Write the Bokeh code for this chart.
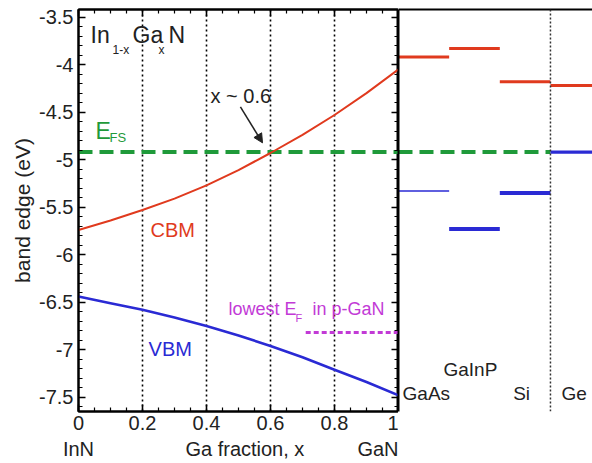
from bokeh.plotting import figure
from bokeh.models import (Range1d, FixedTicker, LinearAxis, Label, Arrow, NormalHead,
                          Span, ColumnDataSource, NumeralTickFormatter, Grid)
from bokeh.layouts import row
from bokeh.embed import file_html
from bokeh.resources import INLINE

# ---------------- data ----------------
ga_fraction = [0.0, 0.1, 0.2, 0.3, 0.4, 0.5, 0.6, 0.7, 0.8, 0.9, 1.0]
cbm = [-5.74, -5.64, -5.53, -5.41, -5.27, -5.11, -4.93, -4.74, -4.53, -4.30, -4.05]
vbm = [-6.44, -6.51, -6.58, -6.66, -6.75, -6.85, -6.96, -7.08, -7.21, -7.34, -7.48]
ef_s = -4.92
lowest_ef_pgan = -6.82
lowest_ef_x = [0.71, 1.0]

materials = ["GaAs", "GaInP", "Si", "Ge"]
mat_cbm = [-3.92, -3.83, -4.18, -4.22]
mat_vbm = [-5.33, -5.73, -5.35, -4.92]

x_ticks = [0, 0.2, 0.4, 0.6, 0.8, 1.0]
y_ticks = [-3.5, -4.0, -4.5, -5.0, -5.5, -6.0, -6.5, -7.0, -7.5]
x_minor = [round(i * 0.05, 2) for i in range(21)]
y_minor = [round(-3.4 - i * 0.1, 1) for i in range(43)]
x_names = {0: "InN", 0.52: "Ga fraction, x", 0.967: "GaN"}

# ---------------- style ----------------
FONT = "Liberation Sans"
RED = "#e03a1e"
BLUE = "#2a2ad4"
GREEN = "#1f9a3a"
MAGENTA = "#c23ad6"
TXT = "#222222"

YR = Range1d(-7.65, -3.42)


def mk_axis(ticks, minor, labels=True):
    ax = LinearAxis(ticker=FixedTicker(ticks=ticks, minor_ticks=minor),
                    formatter=NumeralTickFormatter(format="0.[0]"))
    ax.major_tick_in = 7
    ax.major_tick_out = 0
    ax.minor_tick_in = 4
    ax.minor_tick_out = 0
    ax.axis_line_width = 2
    ax.major_tick_line_width = 1.5
    ax.minor_tick_line_width = 1.2
    ax.major_label_text_font = FONT
    ax.major_label_text_font_size = "20px"
    ax.major_label_text_color = TXT
    ax.major_label_standoff = 5
    if not labels:
        ax.major_label_text_font_size = "0px"
        ax.major_label_text_color = None
        ax.major_label_standoff = 0
    return ax


left = figure(width=398, height=463, x_range=Range1d(0, 1), y_range=YR,
              output_backend="svg", toolbar_location=None,
              x_axis_type=None, y_axis_type=None,
              min_border_left=78, min_border_right=0, min_border_top=9,
              min_border_bottom=52)
left.outline_line_color = "black"
left.outline_line_width = 2
left.background_fill_color = "white"
left.border_fill_color = "white"

bx = mk_axis(x_ticks, x_minor)
bx.major_label_standoff = 4
left.add_layout(bx, "below")

# second row under the numbers: InN ... Ga fraction, x ... GaN
bx2 = LinearAxis(ticker=FixedTicker(ticks=list(x_names.keys())),
                 major_label_overrides=x_names, axis_line_color=None,
                 major_tick_in=0, major_tick_out=0, minor_tick_in=0,
                 minor_tick_out=0, major_label_standoff=5,
                 major_label_text_font=FONT, major_label_text_font_size="20px",
                 major_label_text_color=TXT)
left.add_layout(bx2, "below")

ly = mk_axis(y_ticks, y_minor)
ly.axis_label = "band edge (eV)"
ly.axis_label_text_font = FONT
ly.axis_label_text_font_size = "21px"
ly.axis_label_text_font_style = "normal"
ly.axis_label_text_color = TXT
ly.axis_label_standoff = 2
left.add_layout(ly, "left")
left.add_layout(mk_axis(x_ticks, x_minor, labels=False), "above")
left.add_layout(mk_axis(y_ticks, y_minor, labels=False), "right")

left.add_layout(Grid(dimension=0, ticker=FixedTicker(ticks=x_ticks[1:-1]),
                     grid_line_color="black", grid_line_dash="2 3",
                     grid_line_width=1.6))

left.line([0, 1], [ef_s, ef_s], line_color=GREEN, line_width=4, line_dash="14 7")
left.line(ga_fraction, cbm, line_color=RED, line_width=2)
left.line(ga_fraction, vbm, line_color=BLUE, line_width=2.6)
left.line(lowest_ef_x, [lowest_ef_pgan, lowest_ef_pgan], line_color=MAGENTA,
          line_width=3, line_dash="5 3")


def lab(fig, x, y, text, size, color=TXT, align="left", xo=0, yo=0,
        baseline="middle"):
    fig.add_layout(Label(x=x, y=y, text=text, text_font=FONT,
                         text_font_size=f"{size}px", text_color=color,
                         text_align=align, text_baseline=baseline,
                         x_offset=xo, y_offset=yo))


# In(1-x)Ga(x)N
lab(left, 0.0375, -3.69, "In", 23)
lab(left, 0.0375, -3.69, "1-x", 12, xo=22, yo=-15)
lab(left, 0.0375, -3.69, "Ga", 23, xo=42)
lab(left, 0.0375, -3.69, "x", 12, xo=68, yo=-15)
lab(left, 0.0375, -3.69, "N", 23, xo=78)

# E_FS
lab(left, 0.053, -4.70, "E", 23, color=GREEN)
lab(left, 0.053, -4.70, "FS", 13, color=GREEN, xo=14, yo=-6)

lab(left, 0.4125, -4.33, "x ~ 0.6", 20)
left.add_layout(Arrow(end=NormalHead(size=9, fill_color=TXT, line_color=TXT),
                      x_start=0.506, y_start=-4.445, x_end=0.575, y_end=-4.823,
                      line_width=1.5, line_color=TXT))

lab(left, 0.225, -5.736, "CBM", 20, color=RED)
lab(left, 0.219, -6.996, "VBM", 20, color=BLUE)

lab(left, 0.469, -6.576, "lowest E", 18, color=MAGENTA)
lab(left, 0.469, -6.576, "F", 11, color=MAGENTA, xo=67, yo=-9)
lab(left, 0.469, -6.576, "in p-GaN", 18, color=MAGENTA, xo=84)

# ---------------- right panel ----------------
right = figure(width=194, height=463, x_range=Range1d(0, 3.83), y_range=YR,
               output_backend="svg", toolbar_location=None,
               x_axis_type=None, y_axis_type=None,
               min_border_left=0, min_border_right=0, min_border_top=9,
               min_border_bottom=52)
right.outline_line_color = None
right.background_fill_color = "white"
right.border_fill_color = "white"


def bare_axis():
    return LinearAxis(ticker=FixedTicker(ticks=[]), axis_line_width=2,
                      major_tick_in=0, major_tick_out=0, minor_tick_in=0,
                      minor_tick_out=0, major_label_text_font_size="0px",
                      major_label_text_color=None, major_label_standoff=0)


right.add_layout(bare_axis(), "above")
right.add_layout(bare_axis(), "left")

idx = list(range(len(materials)))
src = ColumnDataSource(dict(
    x0=idx, x1=[i + 1 for i in idx], cbm=mat_cbm, vbm=mat_vbm,
    vw=[1.5, 4, 4, 3.2]))
right.segment(x0=[0], y0=[ef_s], x1=[3], y1=[ef_s], line_color=GREEN,
              line_width=4, line_dash="14 7")
right.segment(x0="x0", y0="cbm", x1="x1", y1="cbm", source=src,
              line_color=RED, line_width=3)
right.segment(x0="x0", y0="vbm", x1="x1", y1="vbm", source=src,
              line_color=BLUE, line_width="vw")
right.add_layout(Span(location=3, dimension="height", line_color="#333333",
                      line_dash="2 2", line_width=1.5))

lab(right, 0.08, -7.458, materials[0], 19)
lab(right, 1.42, -7.206, materials[1], 19, align="center")
lab(right, 2.43, -7.458, materials[2], 19, align="center")
lab(right, 3.47, -7.458, materials[3], 19, align="center")

p = row(left, right)
open("out.html", "w").write(file_html(p, INLINE))
